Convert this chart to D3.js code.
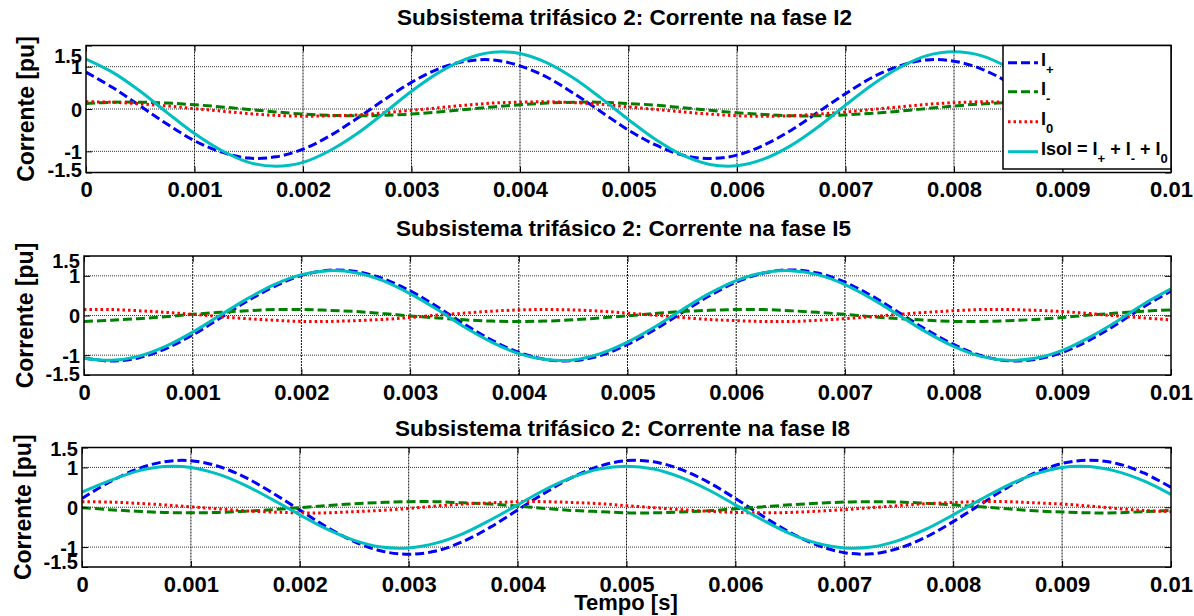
<!DOCTYPE html>
<html>
<head>
<meta charset="utf-8">
<script src="https://d3js.org/d3.v7.min.js"></script>
<style>
  body { margin: 0; background: #fff; }
  text { font-family: "Liberation Sans", Arial, sans-serif; font-weight: bold; fill: #000; }
</style>
</head>
<body>
<svg id="fig" width="1194" height="616"></svg>
<script>
// time samples [s]
const tempo = [0,0.00025,0.0005,0.00075,0.001,0.00125,0.0015,0.00175,0.002,0.00225,0.0025,0.00275,0.003,0.00325,0.0035,0.00375,0.004,0.00425,0.0045,0.00475,0.005,0.00525,0.0055,0.00575,0.006,0.00625,0.0065,0.00675,0.007,0.00725,0.0075,0.00775,0.008,0.00825,0.0085,0.00875,0.009,0.00925,0.0095,0.00975,0.01];

// fase I2 (pu)
const i2Pos  = [0.87,0.50,0.07,-0.36,-0.75,-1.02,-1.16,-1.13,-0.95,-0.63,-0.22,0.22,0.63,0.95,1.13,1.16,1.02,0.75,0.36,-0.07,-0.50,-0.85,-1.09,-1.17,-1.09,-0.85,-0.50,-0.07,0.36,0.75,1.02,1.16,1.13,0.95,0.63,0.22,-0.22,-0.63,-0.95,-1.13,-1.16];
const i2Neg  = [0.13,0.16,0.16,0.14,0.10,0.05,-0.01,-0.07,-0.12,-0.15,-0.16,-0.15,-0.12,-0.07,-0.01,0.05,0.10,0.14,0.16,0.16,0.13,0.09,0.03,-0.03,-0.09,-0.13,-0.16,-0.16,-0.14,-0.10,-0.05,0.01,0.07,0.12,0.15,0.16,0.15,0.12,0.07,0.01,-0.05];
const i2Zero = [0.17,0.16,0.12,0.07,0.01,-0.05,-0.11,-0.15,-0.17,-0.16,-0.14,-0.09,-0.03,0.03,0.09,0.14,0.16,0.17,0.15,0.11,0.05,-0.01,-0.07,-0.12,-0.16,-0.17,-0.16,-0.12,-0.07,-0.01,0.05,0.11,0.15,0.17,0.16,0.14,0.09,0.03,-0.03,-0.09,-0.14];
const i2Sol  = [1.18,0.86,0.42,-0.09,-0.58,-0.98,-1.26,-1.35,-1.26,-0.98,-0.58,-0.09,0.42,0.86,1.18,1.34,1.31,1.09,0.72,0.25,-0.25,-0.72,-1.09,-1.31,-1.34,-1.18,-0.86,-0.42,0.09,0.58,0.98,1.26,1.35,1.26,0.98,0.58,0.09,-0.42,-0.86,-1.18,-1.34];

// fase I5 (pu)
const i5Pos  = [-1.07,-1.15,-1.07,-0.84,-0.49,-0.07,0.36,0.73,1.01,1.14,1.11,0.93,0.62,0.22,-0.22,-0.62,-0.93,-1.11,-1.14,-1.01,-0.73,-0.36,0.07,0.49,0.84,1.07,1.15,1.07,0.84,0.49,0.07,-0.36,-0.73,-1.01,-1.14,-1.11,-0.93,-0.62,-0.22,0.22,0.62];
const i5Neg  = [-0.15,-0.12,-0.08,-0.03,0.03,0.08,0.12,0.15,0.15,0.13,0.10,0.05,-0.01,-0.06,-0.11,-0.14,-0.15,-0.14,-0.11,-0.06,-0.01,0.05,0.10,0.13,0.15,0.15,0.12,0.08,0.03,-0.03,-0.08,-0.12,-0.15,-0.15,-0.13,-0.10,-0.05,0.01,0.06,0.11,0.14];
const i5Zero = [0.15,0.15,0.12,0.08,0.03,-0.03,-0.08,-0.12,-0.15,-0.15,-0.13,-0.10,-0.05,0.01,0.06,0.11,0.14,0.15,0.14,0.11,0.06,0.01,-0.05,-0.10,-0.13,-0.15,-0.15,-0.12,-0.08,-0.03,0.03,0.08,0.12,0.15,0.15,0.13,0.10,0.05,-0.01,-0.06,-0.11];
const i5Sol  = [-1.08,-1.13,-1.03,-0.78,-0.42,0.00,0.42,0.78,1.03,1.13,1.08,0.88,0.55,0.15,-0.29,-0.67,-0.96,-1.11,-1.12,-0.96,-0.67,-0.29,0.14,0.55,0.88,1.08,1.13,1.03,0.78,0.42,0.00,-0.42,-0.78,-1.03,-1.13,-1.08,-0.88,-0.55,-0.15,0.29,0.67];

// fase I8 (pu)
const i8Pos  = [0.22,0.63,0.95,1.14,1.17,1.03,0.75,0.36,-0.07,-0.50,-0.86,-1.10,-1.18,-1.10,-0.86,-0.50,-0.07,0.36,0.75,1.03,1.17,1.14,0.95,0.63,0.22,-0.22,-0.63,-0.95,-1.14,-1.17,-1.03,-0.75,-0.36,0.07,0.50,0.86,1.10,1.18,1.10,0.86,0.50];
const i8Neg  = [-0.01,-0.06,-0.10,-0.13,-0.14,-0.13,-0.10,-0.06,-0.01,0.04,0.09,0.12,0.14,0.14,0.11,0.08,0.03,-0.03,-0.08,-0.11,-0.14,-0.14,-0.12,-0.09,-0.04,0.01,0.06,0.10,0.13,0.14,0.13,0.10,0.06,0.01,-0.04,-0.09,-0.12,-0.14,-0.14,-0.11,-0.08];
const i8Zero = [0.14,0.13,0.10,0.06,0.01,-0.04,-0.09,-0.12,-0.14,-0.14,-0.11,-0.08,-0.03,0.03,0.08,0.11,0.14,0.14,0.12,0.09,0.04,-0.01,-0.06,-0.10,-0.13,-0.14,-0.13,-0.10,-0.06,-0.01,0.04,0.09,0.12,0.14,0.14,0.11,0.08,0.03,-0.03,-0.08,-0.11];
const i8Sol  = [0.38,0.66,0.90,1.02,1.00,0.83,0.55,0.19,-0.19,-0.55,-0.83,-1.00,-1.02,-0.90,-0.66,-0.32,0.06,0.44,0.75,0.96,1.03,0.96,0.75,0.44,0.06,-0.32,-0.66,-0.90,-1.02,-1.00,-0.83,-0.55,-0.19,0.19,0.55,0.83,1.00,1.02,0.90,0.66,0.32];

const xTicks = [0,0.001,0.002,0.003,0.004,0.005,0.006,0.007,0.008,0.009,0.01];
const xTickLabels = ["0","0.001","0.002","0.003","0.004","0.005","0.006","0.007","0.008","0.009","0.01"];
const yTicks = [-1.5,-1,0,1,1.5];
const yTickLabels = ["-1.5","-1","0","1","1.5"];
const titles = ["Subsistema trifásico 2: Corrente na fase I2",
                "Subsistema trifásico 2: Corrente na fase I5",
                "Subsistema trifásico 2: Corrente na fase I8"];

// series styles (order = draw order)
const seriesStyle = [
  {key: "pos",  color: "#0000ff", dash: "9,4",   sub: "+"},
  {key: "neg",  color: "#008000", dash: "9,4",   sub: "-"},
  {key: "zero", color: "#ff0000", dash: "2.5,3", sub: "0"},
  {key: "sol",  color: "#00bfbf", dash: null,    sub: null}
];

// panel layout; topDy / botDy shift the 1.5 and -1.5 labels like the original
const right = 1171;
const panels = [
  {title: titles[0], data: {pos: i2Pos, neg: i2Neg, zero: i2Zero, sol: i2Sol},
   left: 86, top: 45.5, bottom: 172.5, titleY: 25, ylabX: 34, topDy: 16.5, botDy: 4.2, legend: true},
  {title: titles[1], data: {pos: i5Pos, neg: i5Neg, zero: i5Zero, sol: i5Sol},
   left: 84, top: 256, bottom: 375, titleY: 236, ylabX: 32.5, topDy: 11, botDy: 5, legend: false},
  {title: titles[2], data: {pos: i8Pos, neg: i8Neg, zero: i8Zero, sol: i8Sol},
   left: 82, top: 447.5, bottom: 567, titleY: 436, ylabX: 30.5, topDy: 7.5, botDy: 1.5, legend: false}
];

const svg = d3.select("#fig");
svg.append("rect").attr("width", 1194).attr("height", 616).attr("fill", "#fff");

panels.forEach((p, pi) => {
  const x = d3.scaleLinear().domain([0, 0.01]).range([p.left, right]);
  const y = d3.scaleLinear().domain([-1.5, 1.5]).range([p.bottom, p.top]);
  const g = svg.append("g");

  // grid
  g.selectAll(".vg").data(xTicks.slice(1, -1)).join("line")
    .attr("x1", d => x(d)).attr("x2", d => x(d))
    .attr("y1", p.top).attr("y2", p.bottom)
    .attr("stroke", "#111").attr("stroke-width", 1).attr("stroke-dasharray", "2,1");
  g.selectAll(".hg").data([-1, 0, 1]).join("line")
    .attr("x1", p.left).attr("x2", right)
    .attr("y1", d => y(d)).attr("y2", d => y(d))
    .attr("stroke", "#333").attr("stroke-width", 1).attr("stroke-dasharray", "1,1");

  // curves
  const clipId = "clip" + pi;
  svg.append("clipPath").attr("id", clipId).append("rect")
    .attr("x", p.left).attr("y", p.top).attr("width", right - p.left).attr("height", p.bottom - p.top);
  const line = d3.line().x((d, i) => x(tempo[i])).y(d => y(d)).curve(d3.curveCatmullRom);
  seriesStyle.forEach(s => {
    g.append("path")
      .attr("clip-path", `url(#${clipId})`)
      .attr("d", line(p.data[s.key]))
      .attr("fill", "none")
      .attr("stroke", s.color)
      .attr("stroke-width", 3)
      .attr("stroke-dasharray", s.dash);
  });

  // axes (inward ticks on all four sides)
  const xAxis = d3.axisBottom(x).tickValues(xTicks)
    .tickFormat((d, i) => xTickLabels[i]).tickSize(-6).tickPadding(9);
  const xa = g.append("g").attr("transform", `translate(0,${p.bottom})`).call(xAxis);
  const xTop = d3.axisTop(x).tickValues(xTicks).tickFormat("").tickSize(-6);
  const xt = g.append("g").attr("transform", `translate(0,${p.top})`).call(xTop);
  const yAxis = d3.axisLeft(y).tickValues(yTicks)
    .tickFormat((d, i) => yTickLabels[i]).tickSize(-6).tickPadding(4);
  const ya = g.append("g").attr("transform", `translate(${p.left},0)`).call(yAxis);
  const yRight = d3.axisRight(y).tickValues(yTicks).tickFormat("").tickSize(-6);
  const yr = g.append("g").attr("transform", `translate(${right},0)`).call(yRight);
  [xa, xt, ya, yr].forEach(a => {
    a.select(".domain").remove();
    a.selectAll(".tick line").attr("stroke", "#000").attr("stroke-width", 1);
  });
  xa.selectAll("text").style("font-size", "22px");
  ya.selectAll("text").style("font-size", "20px")
    .attr("dy", d => d === 1.5 ? p.topDy : d === -1.5 ? p.botDy : 7);

  // box
  g.append("rect").attr("x", p.left).attr("y", p.top)
    .attr("width", right - p.left).attr("height", p.bottom - p.top)
    .attr("fill", "none").attr("stroke", "#000").attr("stroke-width", 1.5);

  // title and y label
  g.append("text").attr("x", (p.left + right) / 2 - 4).attr("y", p.titleY)
    .attr("text-anchor", "middle").style("font-size", "22.5px").text(p.title);
  g.append("text")
    .attr("transform", `translate(${p.ylabX},${(p.top + p.bottom) / 2}) rotate(-90)`)
    .attr("text-anchor", "middle").style("font-size", "23px").text("Corrente [pu]");

  // legend
  if (p.legend) {
    const lg = svg.append("g");
    lg.append("rect").attr("x", 1003).attr("y", p.top).attr("width", right - 1003).attr("height", 169 - p.top)
      .attr("fill", "#fff").attr("stroke", "#000").attr("stroke-width", 1.5);
    const rowY = [62.7, 91.7, 121.7, 151.7];
    seriesStyle.forEach((s, i) => {
      lg.append("line").attr("x1", 1008).attr("x2", 1038).attr("y1", rowY[i]).attr("y2", rowY[i])
        .attr("stroke", s.color).attr("stroke-width", 3).attr("stroke-dasharray", s.dash);
      const t = lg.append("text").attr("x", 1041).attr("y", rowY[i] + 3).style("font-size", "18px");
      if (s.sub !== null) {
        t.append("tspan").text("I");
        t.append("tspan").attr("dy", 8).style("font-size", "13px").text(s.sub);
      } else {
        t.append("tspan").text("Isol = I");
        t.append("tspan").attr("dy", 8).style("font-size", "13px").text("+");
        t.append("tspan").attr("dy", -8).text(" + I");
        t.append("tspan").attr("dy", 8).style("font-size", "13px").text("-");
        t.append("tspan").attr("dy", -8).text(" + I");
        t.append("tspan").attr("dy", 8).style("font-size", "13px").text("0");
      }
    });
  }
});

// x label
svg.append("text").attr("x", 626).attr("y", 610).attr("text-anchor", "middle")
  .style("font-size", "22px").text("Tempo [s]");
</script>
</body>
</html>
